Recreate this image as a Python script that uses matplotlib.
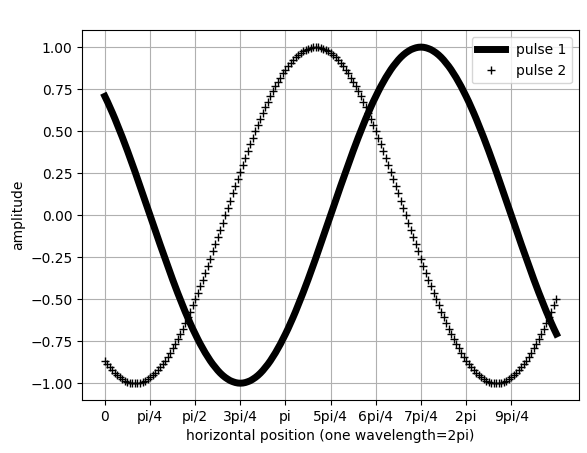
import numpy as np
import matplotlib
matplotlib.use('Agg')
import matplotlib.pyplot as plt

pulse1 = [0.707, 0.676, 0.643, 0.609, 0.574, 0.537, 0.500, 0.462, 0.423, 0.383,
          0.342, 0.301, 0.259, 0.216, 0.174, 0.131, 0.087, 0.044, 0.000,
          -0.044, -0.087, -0.131, -0.174, -0.216, -0.259, -0.301, -0.342, -0.383, -0.423,
          -0.462, -0.500, -0.537, -0.574, -0.609, -0.643, -0.676, -0.707, -0.737, -0.766,
          -0.793, -0.819, -0.843, -0.866, -0.887, -0.906, -0.924, -0.940, -0.954, -0.966,
          -0.976, -0.985, -0.991, -0.996, -0.999, -1.000,
          -0.999, -0.996, -0.991, -0.985, -0.976, -0.966, -0.954, -0.940, -0.924, -0.906,
          -0.887, -0.866, -0.843, -0.819, -0.793, -0.766, -0.737, -0.707, -0.676, -0.643,
          -0.609, -0.574, -0.537, -0.500, -0.462, -0.423, -0.383, -0.342, -0.301, -0.259,
          -0.216, -0.174, -0.131, -0.087, -0.044, 0.000,
          0.044, 0.087, 0.131, 0.174, 0.216, 0.259, 0.301, 0.342, 0.383, 0.423,
          0.462, 0.500, 0.537, 0.574, 0.609, 0.643, 0.676, 0.707, 0.737, 0.766,
          0.793, 0.819, 0.843, 0.866, 0.887, 0.906, 0.924, 0.940, 0.954, 0.966,
          0.976, 0.985, 0.991, 0.996, 0.999, 1.000,
          0.999, 0.996, 0.991, 0.985, 0.976, 0.966, 0.954, 0.940, 0.924, 0.906,
          0.887, 0.866, 0.843, 0.819, 0.793, 0.766, 0.737, 0.707, 0.676, 0.643,
          0.609, 0.574, 0.537, 0.500, 0.462, 0.423, 0.383, 0.342, 0.301, 0.259,
          0.216, 0.174, 0.131, 0.087, 0.044, 0.000,
          -0.044, -0.087, -0.131, -0.174, -0.216, -0.259, -0.301, -0.342, -0.383, -0.423,
          -0.462, -0.500, -0.537, -0.574, -0.609, -0.643, -0.676, -0.707]

pulse2 = [-0.866, -0.887, -0.906, -0.924, -0.940, -0.954, -0.966, -0.976, -0.985, -0.991,
          -0.996, -0.999, -1.000,
          -0.999, -0.996, -0.991, -0.985, -0.976, -0.966, -0.954, -0.940, -0.924, -0.906,
          -0.887, -0.866, -0.843, -0.819, -0.793, -0.766, -0.737, -0.707, -0.676, -0.643,
          -0.609, -0.574, -0.537, -0.500, -0.462, -0.423, -0.383, -0.342, -0.301, -0.259,
          -0.216, -0.174, -0.131, -0.087, -0.044, 0.000,
          0.044, 0.087, 0.131, 0.174, 0.216, 0.259, 0.301, 0.342, 0.383, 0.423,
          0.462, 0.500, 0.537, 0.574, 0.609, 0.643, 0.676, 0.707, 0.737, 0.766,
          0.793, 0.819, 0.843, 0.866, 0.887, 0.906, 0.924, 0.940, 0.954, 0.966,
          0.976, 0.985, 0.991, 0.996, 0.999, 1.000,
          0.999, 0.996, 0.991, 0.985, 0.976, 0.966, 0.954, 0.940, 0.924, 0.906,
          0.887, 0.866, 0.843, 0.819, 0.793, 0.766, 0.737, 0.707, 0.676, 0.643,
          0.609, 0.574, 0.537, 0.500, 0.462, 0.423, 0.383, 0.342, 0.301, 0.259,
          0.216, 0.174, 0.131, 0.087, 0.044, 0.000,
          -0.044, -0.087, -0.131, -0.174, -0.216, -0.259, -0.301, -0.342, -0.383, -0.423,
          -0.462, -0.500, -0.537, -0.574, -0.609, -0.643, -0.676, -0.707, -0.737, -0.766,
          -0.793, -0.819, -0.843, -0.866, -0.887, -0.906, -0.924, -0.940, -0.954, -0.966,
          -0.976, -0.985, -0.991, -0.996, -0.999, -1.000,
          -0.999, -0.996, -0.991, -0.985, -0.976, -0.966, -0.954, -0.940, -0.924, -0.906,
          -0.887, -0.866, -0.843, -0.819, -0.793, -0.766, -0.737, -0.707, -0.676, -0.643,
          -0.609, -0.574, -0.537, -0.500]

tick_labels = ['0', 'pi/4', 'pi/2', '3pi/4', 'pi', '5pi/4', '6pi/4', '7pi/4', '2pi', '9pi/4']

x = np.linspace(0, 2.5*np.pi, len(pulse1))  # sample positions

fig = plt.figure(figsize=(5.87, 4.53), dpi=100)
ax = fig.add_axes([82.3/587, 1-400/453, (579-82.3)/587, (400-30.3)/453])
ax.plot(x, pulse1, 'k-', lw=5, label='pulse 1')
ax.plot(x, pulse2, 'k+', label='pulse 2')
ax.set_xticks(np.arange(len(tick_labels))*np.pi/4)
ax.set_xticklabels(tick_labels)
ax.set_xlabel('horizontal position (one wavelength=2pi)')
ax.set_ylabel('amplitude')
ax.grid(True)
ax.legend(loc='best')
fig.savefig('out.png', dpi=100)
